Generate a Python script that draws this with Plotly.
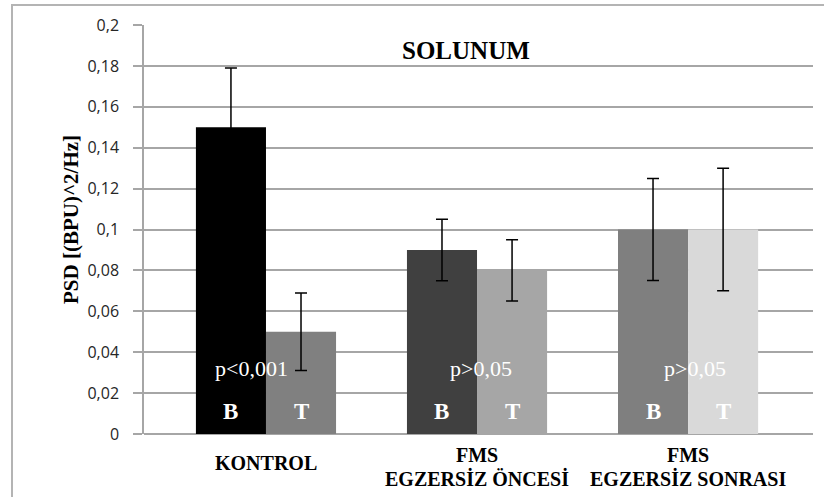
import plotly.graph_objects as go

categories = ["KONTROL", "FMS<br>EGZERSİZ ÖNCESİ", "FMS<br>EGZERSİZ SONRASI"]
b_values = [0.15, 0.09, 0.10]
b_errors = [0.029, 0.015, 0.025]
t_values = [0.05, 0.08, 0.10]
t_errors = [0.019, 0.015, 0.030]
b_colors = ["#000000", "#404040", "#7f7f7f"]
t_colors = ["#808080", "#a6a6a6", "#d9d9d9"]
p_labels = ["p<0,001", "p>0,05", "p>0,05"]
y_tickvals = [0, 0.02, 0.04, 0.06, 0.08, 0.1, 0.12, 0.14, 0.16, 0.18, 0.2]
y_ticktext = ["0", "0,02", "0,04", "0,06", "0,08", "0,1", "0,12", "0,14", "0,16", "0,18", "0,2"]

xs = list(range(len(categories)))
serif = "Liberation Serif"

# plot-area pixel geometry
L, R, T, B = 144, 11, 25, 63
W, H = 824 - L - R, 497 - T - B


def px(xpix):
    return (xpix - L) / W


def py(ypix):
    return (497 - B - ypix) / H


fig = go.Figure()
for vals, errs, cols, name in [(b_values, b_errors, b_colors, "B"),
                               (t_values, t_errors, t_colors, "T")]:
    fig.add_trace(go.Bar(
        x=xs, y=vals, name=name,
        marker=dict(color=cols, line=dict(width=0)),
        error_y=dict(type="data", array=errs, visible=True,
                     color="#000000", thickness=1.5, width=6),
    ))

grid = "#a6a6a6"
fig.update_layout(
    width=824, height=497,
    margin=dict(l=L, r=R, t=T, b=B),
    paper_bgcolor="white", plot_bgcolor="white",
    barmode="group", bargap=0.336, bargroupgap=0,
    showlegend=False,
    xaxis=dict(range=[-0.578, 2.592], showticklabels=False, showgrid=False,
               zeroline=False, showline=False, ticks=""),
    yaxis=dict(range=[0, 0.2], tickvals=y_tickvals, ticktext=y_ticktext,
               showgrid=True, gridcolor=grid, gridwidth=1.5,
               zeroline=True, zerolinecolor=grid, zerolinewidth=1.5,
               showline=True, linecolor=grid, linewidth=1.5,
               ticks="outside", ticklen=9, tickcolor=grid, tickwidth=1.5,
               ticklabelstandoff=11,
               tickfont=dict(family="Open Sans", size=16, color="#262626")),
    font=dict(family=serif),
)

# outer frame
fig.add_shape(type="rect", xref="paper", yref="paper",
              x0=px(12), x1=px(840), y0=py(520), y1=py(5),
              line=dict(color="#b4b4b4", width=2), layer="below")

off = 0.166
p_shift = [-14, 4, 7]
for i, c in enumerate(categories):
    lines = c.split("<br>")
    if len(lines) == 1:
        ys = [463]
    else:
        ys = [455, 478]
    for ln, yy in zip(lines, ys):
        fig.add_annotation(x=i, y=py(yy), xref="x", yref="paper",
                           text="<b>" + ln + "</b>", showarrow=False, yanchor="middle",
                           font=dict(family=serif, size=20, color="#000000"))
    fig.add_annotation(x=i, y=py(368), xref="x", yref="paper", text=p_labels[i],
                       xshift=p_shift[i], showarrow=False, yanchor="middle",
                       font=dict(family=serif, size=22, color="white"))
    fig.add_annotation(x=i - off, y=py(411), xref="x", yref="paper", text="<b>B</b>",
                       showarrow=False, yanchor="middle",
                       font=dict(family=serif, size=23, color="white"))
    fig.add_annotation(x=i + off, y=py(411), xref="x", yref="paper", text="<b>T</b>",
                       showarrow=False, yanchor="middle",
                       font=dict(family=serif, size=23, color="white"))

fig.add_annotation(text="<b>SOLUNUM</b>", x=px(466), y=py(50), yanchor="middle",
                   xref="paper", yref="paper", showarrow=False,
                   font=dict(family=serif, size=25, color="#000000"))
fig.add_annotation(text="<b>PSD [(BPU)^2/Hz]</b>", x=px(57), y=py(220), yanchor="middle",
                   xref="paper", yref="paper", showarrow=False, textangle=-90,
                   font=dict(family=serif, size=21, color="#000000"))

fig.write_html("out.html")
